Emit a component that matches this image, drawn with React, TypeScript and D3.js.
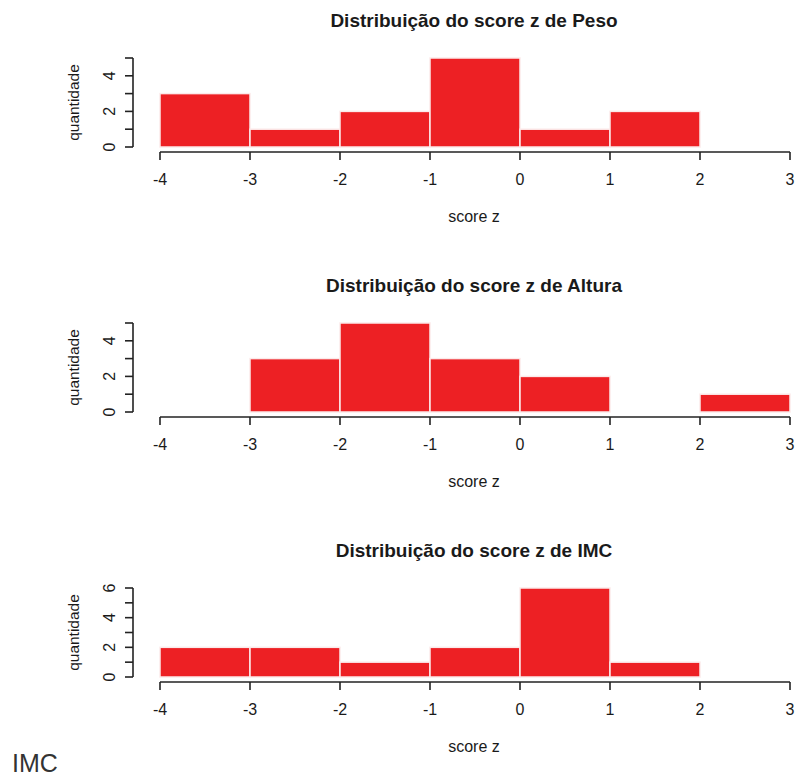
import React from "react";
import * as d3 from "d3";

// bin edges for score z
const binEdges = [-4, -3, -2, -1, 0, 1, 2, 3];
const xTicks = [-4, -3, -2, -1, 0, 1, 2, 3];

const pesoCounts = [3, 1, 2, 5, 1, 2, 0];
const alturaCounts = [0, 3, 5, 3, 2, 0, 1];
const imcCounts = [2, 2, 1, 2, 6, 1, 0];

const panels = [
  { title: "Distribuição do score z de Peso", counts: pesoCounts, yMax: 5, yLabels: [0, 2, 4] },
  { title: "Distribuição do score z de Altura", counts: alturaCounts, yMax: 5, yLabels: [0, 2, 4] },
  { title: "Distribuição do score z de IMC", counts: imcCounts, yMax: 6, yLabels: [0, 2, 4, 6] },
];

const W = 796;
const H = 776;
const panelH = 265;
const font = "'Liberation Sans', Arial, sans-serif";
const axisColor = "#222";
const textColor = "#1a1a1a";

const x = d3.scaleLinear().domain([-4, 3]).range([160, 790]);

const Panel = ({ p, i }: { p: any; i: number }) => {
  const top = i * panelH;
  const y = d3.scaleLinear().domain([0, p.yMax]).range([top + 147, top + 58]);
  const yTicks = d3.range(0, p.yMax + 1);
  const axisY = top + 152;
  const axisX = 133;
  const bins = p.counts.map((c: number, k: number) => ({ x0: binEdges[k], x1: binEdges[k + 1], c }));
  return (
    <g>
      <text x={474} y={top + 27} textAnchor="middle" fontFamily={font} fontWeight="bold" fontSize={19} fill={textColor}>
        {p.title}
      </text>
      {bins.filter((b: any) => b.c > 0).map((b: any, k: number) => (
        <rect
          key={k}
          x={x(b.x0)}
          y={y(b.c)}
          width={x(b.x1) - x(b.x0)}
          height={y(0) - y(b.c)}
          fill="#ED2024"
          stroke="#fbeaea"
          strokeWidth={1.5}
        />
      ))}
      {/* x axis */}
      <line x1={x(-4)} x2={x(3)} y1={axisY} y2={axisY} stroke={axisColor} strokeWidth={1.6} />
      {xTicks.map((t) => (
        <g key={t}>
          <line x1={x(t)} x2={x(t)} y1={axisY} y2={axisY + 8} stroke={axisColor} strokeWidth={1.6} />
          <text x={x(t)} y={axisY + 33} textAnchor="middle" fontFamily={font} fontSize={16} fill={textColor}>
            {t}
          </text>
        </g>
      ))}
      <text x={474} y={top + 222} textAnchor="middle" fontFamily={font} fontSize={16} fill={textColor}>
        score z
      </text>
      {/* y axis */}
      <line x1={axisX} x2={axisX} y1={y(0)} y2={y(p.yMax)} stroke={axisColor} strokeWidth={1.6} />
      {yTicks.map((t) => (
        <line key={t} x1={axisX - 8} x2={axisX} y1={y(t)} y2={y(t)} stroke={axisColor} strokeWidth={1.6} />
      ))}
      {p.yLabels.map((t: number) => (
        <text
          key={t}
          transform={`translate(${axisX - 24},${y(t)}) rotate(-90)`}
          textAnchor="middle"
          dominantBaseline="central"
          fontFamily={font}
          fontSize={16}
          fill={textColor}
        >
          {t}
        </text>
      ))}
      <text
        transform={`translate(73,${(y(0) + y(p.yMax)) / 2}) rotate(-90)`}
        textAnchor="middle"
        dominantBaseline="central"
        fontFamily={font}
        fontSize={15.5}
        fill={textColor}
      >
        quantidade
      </text>
    </g>
  );
};

export default function App() {
  return (
    <svg
      width={W}
      height={H}
      style={{ position: "absolute", left: 0, top: 0, background: "#fff" }}
    >
      <rect width={W} height={H} fill="#fff" />
      {panels.map((p, i) => (
        <Panel key={i} p={p} i={i} />
      ))}
      <text x={12} y={772} fontFamily={font} fontSize={25} fill="#333">
        IMC
      </text>
    </svg>
  );
}
